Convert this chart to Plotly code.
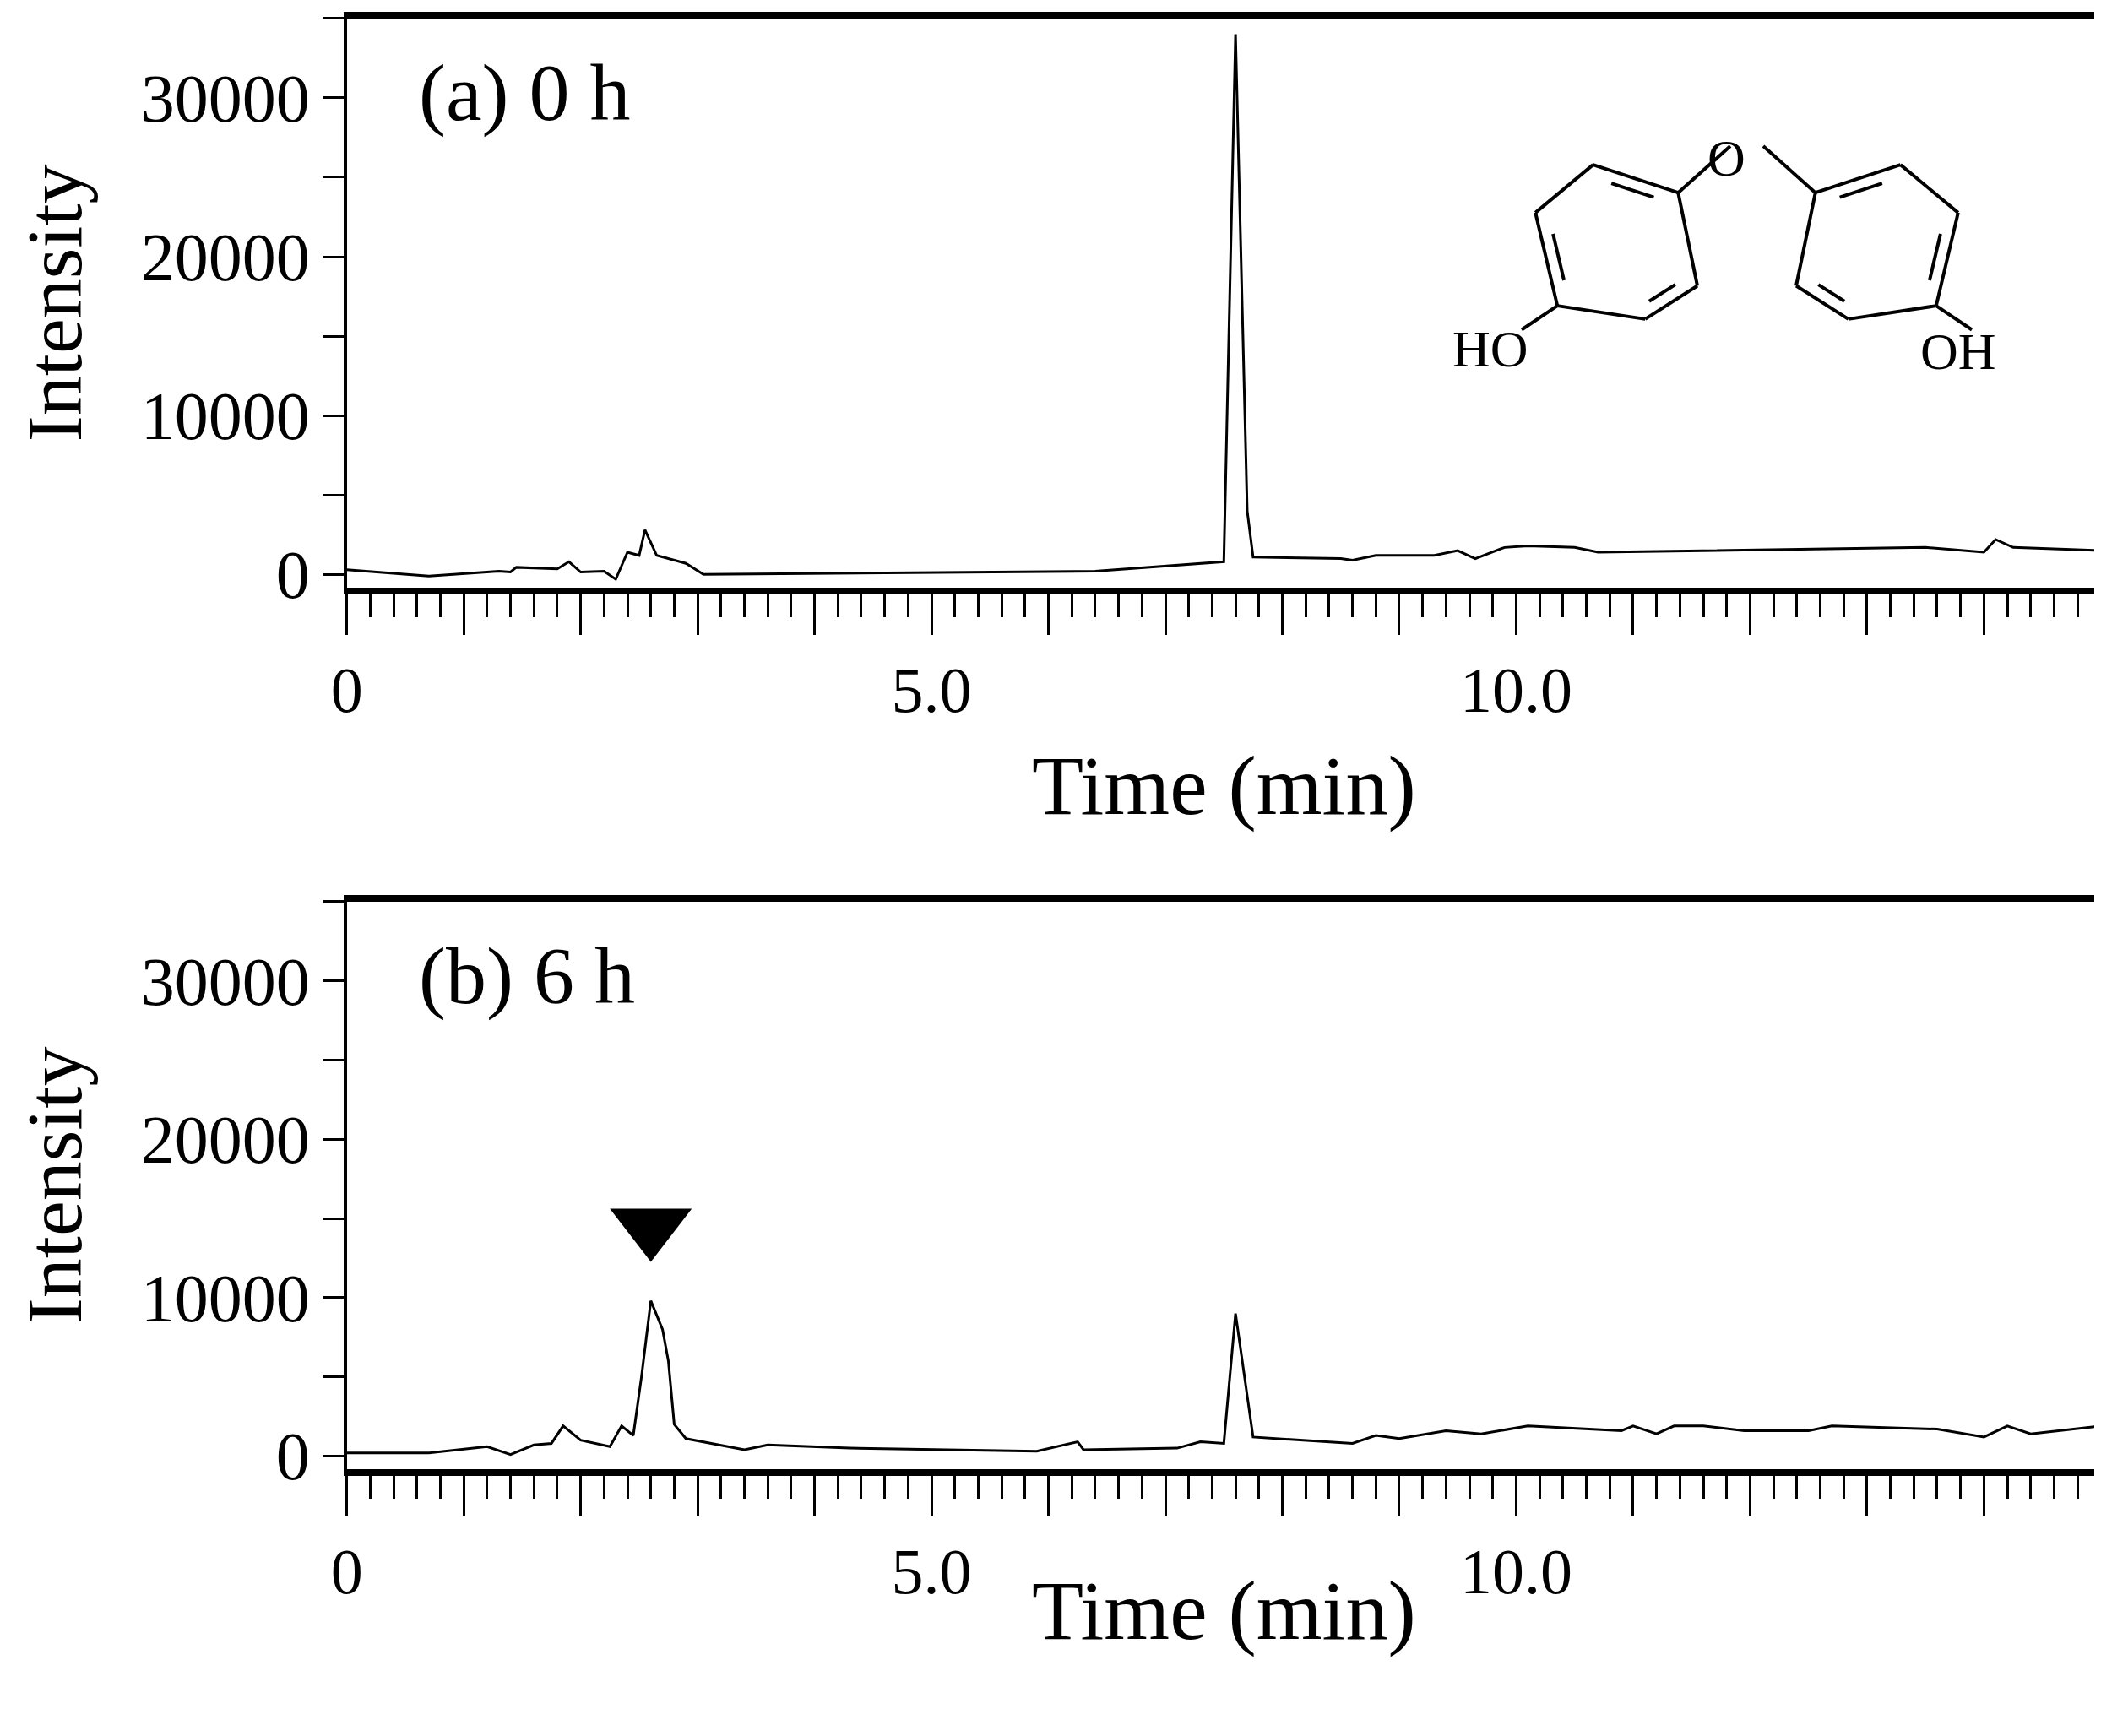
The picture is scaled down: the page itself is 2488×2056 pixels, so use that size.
import plotly.graph_objects as go

# ---- data ----
time_a = [0, 0.7, 1.3, 1.4, 1.45, 1.7, 1.8, 1.9, 2.0, 2.2, 2.3, 2.4, 2.5, 2.55, 2.65, 2.9, 3.05, 6.4, 7.5, 7.6, 7.7, 7.75,
          8.5, 8.6, 8.8, 9.3, 9.5, 9.65, 9.9, 10.1, 10.5, 10.7, 13.5, 14.0, 14.1, 14.25, 15.0]
int_a = [300, -100, 200, 150, 450, 400, 350, 800, 150, 200, -300, 1400, 1200, 2800, 1200, 700, 0, 200, 800, 34000, 4000, 1100,
         1000, 900, 1200, 1200, 1500, 1000, 1700, 1800, 1700, 1400, 1700, 1400, 2200, 1700, 1500]

time_b = [0, 0.7, 1.2, 1.4, 1.6, 1.75, 1.85, 2.0, 2.25, 2.35, 2.45, 2.52, 2.6, 2.7, 2.75, 2.8, 2.9, 3.4, 3.6, 4.3, 5.9,
          6.25, 6.3, 7.1, 7.3, 7.5, 7.6, 7.75, 8.6, 8.8, 9.0, 9.4, 9.7, 10.1, 10.9, 11.0, 11.2, 11.35, 11.6, 11.95,
          12.5, 12.7, 13.6, 14.0, 14.2, 14.4, 15.0]
int_b = [200, 200, 600, 100, 700, 800, 1900, 1000, 600, 1900, 1300, 5000, 9800, 8000, 6000, 2000, 1100, 400, 700, 500, 300,
         900, 400, 500, 900, 800, 9000, 1200, 800, 1300, 1100, 1600, 1400, 1900, 1600, 1900, 1400, 1900, 1900, 1600,
         1600, 1900, 1700, 1200, 1900, 1400, 1900]

marker_time = [2.6]
marker_int = [14500]

x_tickvals = list(range(0, 16))
x_ticktext = ["0" if v == 0 else (f"{v:.1f}" if v % 5 == 0 else "") for v in x_tickvals]
y_tickvals = [0, 5000, 10000, 15000, 20000, 25000, 30000, 35000]
y_ticktext = ["0", "", "10000", "", "20000", "", "30000", ""]
panel_labels = ["(a) 0 h", "(b) 6 h"]

W, H = 2488, 2056
FONT = "Liberation Serif"
fig = go.Figure()
fig.add_trace(go.Scatter(x=time_a, y=int_a, mode="lines", line=dict(color="black", width=3), xaxis="x", yaxis="y"))
fig.add_trace(go.Scatter(x=time_b, y=int_b, mode="lines", line=dict(color="black", width=3), xaxis="x2", yaxis="y2"))
fig.add_trace(go.Scatter(x=marker_time, y=marker_int, mode="markers",
                         marker=dict(symbol="triangle-down", size=84, color="black"), xaxis="x2", yaxis="y2"))

xd = [0.1554, 0.9967]
doms = [[1 - 698 / H, 1 - 14 / H], [1 - 1757 / H, 1 - 1075 / H]]

def xax(anchor):
    return dict(domain=xd, range=[0, 15], anchor=anchor, showgrid=False, zeroline=False,
                tickmode="array", tickvals=x_tickvals, ticktext=x_ticktext, ticks="outside",
                ticklen=48, tickwidth=3, tickcolor="black", showline=True, linewidth=8, linecolor="black",
                mirror=True, tickfont=dict(family=FONT, size=76, color="black"),
                minor=dict(dtick=0.2, ticks="outside", ticklen=27, tickwidth=3, tickcolor="black"))

def yax(anchor, dom):
    return dict(domain=dom, range=[-840, 35000], anchor=anchor, showgrid=False, zeroline=False,
                tickmode="array", tickvals=y_tickvals, ticktext=y_ticktext, ticks="outside",
                ticklen=24, tickwidth=3, tickcolor="black", showline=True, linewidth=4, linecolor="black",
                tickfont=dict(family=FONT, size=80, color="black"),
                title=dict(text="Intensity", standoff=40, font=dict(family=FONT, size=94, color="black")))

fig.update_layout(width=W, height=H, margin=dict(l=0, r=0, t=0, b=0), showlegend=False,
                  plot_bgcolor="white", paper_bgcolor="white",
                  xaxis=xax("y"), yaxis=yax("x", doms[0]),
                  xaxis2=xax("y2"), yaxis2=yax("x2", doms[1]))

for xr, yr in [("x", "y"), ("x2", "y2")]:
    fig.add_shape(type="line", xref=xr + " domain", yref=yr + " domain",
                  x0=1, x1=1, y0=0, y1=1, line=dict(color="black", width=8))

ann = []
title_off = [238, 228]
for i, (lab, dom) in enumerate(zip(panel_labels, doms)):
    ann.append(dict(text=lab, x=0.040, y=0.87, xref=("x" if i == 0 else "x2") + " domain",
                    yref=("y" if i == 0 else "y2") + " domain", xanchor="left",
                    yanchor="middle", showarrow=False, font=dict(family=FONT, size=96, color="black")))
    ann.append(dict(text="Time (min)", x=(xd[0] + xd[1]) / 2, y=dom[0] - title_off[i] / H, xref="paper", yref="paper",
                    showarrow=False, font=dict(family=FONT, size=100, color="black")))

# molecule, positioned in top-panel domain fractions
def P(px, py):
    return ((px - 252) / (1530 - 252), (440 - py) / (440 - 12))

left_ring = [(1222, 143), (1160, 122), (1118, 158), (1134, 228), (1198, 238), (1236, 213)]
right_ring = [(2544 - x, y) for x, y in left_ring]

def ring_shapes(ring):
    out = []
    cx = sum(p[0] for p in ring) / 6
    cy = sum(p[1] for p in ring) / 6
    for k in range(6):
        a, b = ring[k], ring[(k + 1) % 6]
        out.append((a, b))
        if k in (0, 2, 4):
            f, t = 0.17, 0.2
            ia = (a[0] + (cx - a[0]) * f, a[1] + (cy - a[1]) * f)
            ib = (b[0] + (cx - b[0]) * f, b[1] + (cy - b[1]) * f)
            ia2 = (ia[0] + (ib[0] - ia[0]) * t, ia[1] + (ib[1] - ia[1]) * t)
            ib2 = (ib[0] + (ia[0] - ib[0]) * t, ib[1] + (ia[1] - ib[1]) * t)
            out.append((ia2, ib2))
    return out

segs = ring_shapes(left_ring) + ring_shapes(right_ring)
segs += [((1222, 143), (1260, 108)), ((2544 - 1222, 143), (2544 - 1260, 108)),
         ((1134, 228), (1108, 246)), ((2544 - 1134, 228), (2544 - 1108, 246))]
for a, b in segs:
    p0, p1 = P(*a), P(*b)
    fig.add_shape(type="line", xref="x domain", yref="y domain", x0=p0[0], y0=p0[1], x1=p1[0], y1=p1[1],
                  line=dict(color="black", width=4))
for txt, (px, py) in [("O", (1272, 94)), ("HO", (1085, 260)), ("OH", (1455, 262))]:
    q = P(px, py)
    ann.append(dict(text=txt, x=q[0], y=q[1], xref="x domain", yref="y domain", showarrow=False,
                    font=dict(family=FONT, size=62, color="black")))

fig.update_layout(annotations=ann)
fig.write_html("out.html")
